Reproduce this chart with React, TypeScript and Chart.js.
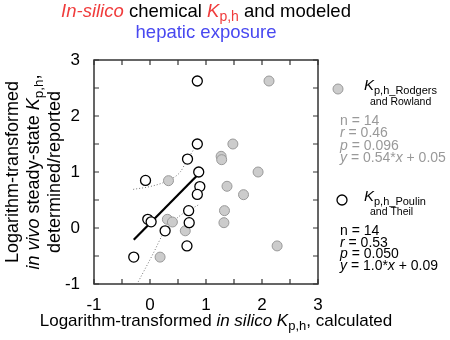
import React, { useEffect, useRef } from "react";
import { Chart, registerables } from "chart.js";

Chart.register(...registerables);

// Rodgers and Rowland (grey filled)
const rrX = [2.125, 1.48, 1.27, 1.28, 1.93, 0.33, 1.375, 1.67, 1.33, 0.31, 0.4, 1.32, 0.63, 2.27, 0.18];
const rrY = [2.625, 1.5, 1.28, 1.22, 1.0, 0.845, 0.745, 0.595, 0.31, 0.155, 0.107, 0.095, -0.05, -0.32, -0.52];
// Poulin and Theil (open)
const ptX = [0.845, 0.845, 0.67, 0.87, -0.08, 0.89, 0.845, 0.69, -0.04, 0.02, 0.7, 0.27, 0.66, -0.29];
const ptY = [2.625, 1.5, 1.23, 1.0, 0.85, 0.74, 0.6, 0.31, 0.155, 0.11, 0.095, -0.05, -0.32, -0.52];
// regression line (Poulin and Theil)
const fitX = [-0.29, 0.85];
const fitY = [-0.21, 0.945];
// confidence band
const ciUpperX = [-0.3, 0, 0.24, 0.33, 0.54, 0.655, 0.83];
const ciUpperY = [0.69, 0.74, 0.81, 0.85, 1.0, 1.2, 1.48];
const ciLowerX = [-0.21, 0.06, 0.24, 0.51, 0.86];
const ciLowerY = [-0.96, -0.45, -0.095, 0.2, 0.41];

const axisMin = -1;
const axisMax = 3;
const tickLabels = ["-1", "0", "1", "2", "3"];

const rrStats = ["n = 14", "r = 0.46", "p = 0.096", "y = 0.54*x + 0.05"];
const ptStats = ["n = 14", "r = 0.53", "p = 0.050", "y = 1.0*x + 0.09"];

const FONT = "'Liberation Sans', Arial, sans-serif";
const RED = "#f03c3c";
const BLUE = "#4848f0";

type Run = { t: string; size?: number; italic?: boolean; color?: string; dy?: number };

function runsWidth(ctx: CanvasRenderingContext2D, runs: Run[], base: number) {
  let w = 0;
  for (const r of runs) {
    ctx.font = `${r.italic ? "italic " : ""}${r.size || base}px ${FONT}`;
    w += ctx.measureText(r.t).width;
  }
  return w;
}

function drawRuns(ctx: CanvasRenderingContext2D, x: number, y: number, runs: Run[], base: number, color: string, align: "left" | "center") {
  const w = runsWidth(ctx, runs, base);
  let cx = align === "center" ? x - w / 2 : x;
  ctx.textAlign = "left";
  ctx.textBaseline = "alphabetic";
  for (const r of runs) {
    ctx.font = `${r.italic ? "italic " : ""}${r.size || base}px ${FONT}`;
    ctx.fillStyle = r.color || color;
    ctx.fillText(r.t, cx, y + (r.dy || 0));
    cx += ctx.measureText(r.t).width;
  }
}

function statRuns(s: string): Run[] {
  const out: Run[] = [];
  for (const ch of s) {
    const it = ch === "r" || ch === "p" || ch === "y" || ch === "x";
    const last = out[out.length - 1];
    if (last && !!last.italic === it) last.t += ch;
    else out.push({ t: ch, italic: it });
  }
  return out;
}

const decor = {
  id: "decor",
  afterDraw(chart: any) {
    const ctx: CanvasRenderingContext2D = chart.ctx;
    const { left, right, top, bottom } = chart.chartArea;
    const xs = chart.scales.x;
    const ys = chart.scales.y;
    ctx.save();
    // frame
    ctx.strokeStyle = "#333";
    ctx.lineWidth = 1.5;
    ctx.strokeRect(left, top, right - left, bottom - top);
    // inner ticks
    ctx.lineWidth = 1.2;
    const tl = 5;
    ctx.beginPath();
    for (let v = axisMin; v <= axisMax + 1e-9; v += 0.5) {
      const px = xs.getPixelForValue(v);
      const py = ys.getPixelForValue(v);
      ctx.moveTo(px, bottom); ctx.lineTo(px, bottom - tl);
      ctx.moveTo(px, top); ctx.lineTo(px, top + tl);
      ctx.moveTo(left, py); ctx.lineTo(left + tl, py);
      ctx.moveTo(right, py); ctx.lineTo(right - tl, py);
    }
    ctx.stroke();

    // title
    const cx = (left + right) / 2;
    drawRuns(ctx, cx, 17, [
      { t: "In-silico", italic: true, color: RED },
      { t: " chemical " },
      { t: "K", italic: true, color: RED },
      { t: "p,h", size: 14, dy: 4, color: RED },
      { t: " and modeled" },
    ], 18.5, "#000", "center");
    drawRuns(ctx, cx, 38, [{ t: "hepatic exposure" }], 18.5, BLUE, "center");

    // x title
    drawRuns(ctx, 216, 326, [
      { t: "Logarithm-transformed " },
      { t: "in silico", italic: true },
      { t: " " },
      { t: "K", italic: true },
      { t: "p,h", size: 13, dy: 4 },
      { t: ", calculated" },
    ], 17, "#000", "center");

    // y title
    const cy = (top + bottom) / 2;
    const yLines: [number, Run[]][] = [
      [18, [{ t: "Logarithm-transformed" }]],
      [39, [{ t: "in vivo", italic: true }, { t: " steady-state " }, { t: "K", italic: true }, { t: "p,h", size: 13.5, dy: 4 }, { t: "," }]],
      [60, [{ t: "determined/reported" }]],
    ];
    for (const [bx, runs] of yLines) {
      ctx.save();
      ctx.translate(bx, cy);
      ctx.rotate(-Math.PI / 2);
      drawRuns(ctx, 0, 0, runs, 18, "#000", "center");
      ctx.restore();
    }

    // legend: Rodgers and Rowland
    ctx.beginPath();
    ctx.arc(338, 89, 5, 0, Math.PI * 2);
    ctx.fillStyle = "#cccccc";
    ctx.fill();
    ctx.strokeStyle = "#999";
    ctx.lineWidth = 1;
    ctx.stroke();
    drawRuns(ctx, 364, 90, [{ t: "K", italic: true, size: 15 }, { t: "p,h_Rodgers", size: 11, dy: 4 }], 11, "#000", "left");
    drawRuns(ctx, 370, 105, [{ t: "and Rowland" }], 10.5, "#000", "left");
    rrStats.forEach((s, i) => drawRuns(ctx, 340, 125 + i * 12.3, statRuns(s), 14, "#999", "left"));

    // legend: Poulin and Theil
    ctx.beginPath();
    ctx.arc(342, 200, 5, 0, Math.PI * 2);
    ctx.fillStyle = "#fff";
    ctx.fill();
    ctx.strokeStyle = "#000";
    ctx.lineWidth = 1.3;
    ctx.stroke();
    drawRuns(ctx, 364, 201, [{ t: "K", italic: true, size: 15 }, { t: "p,h_Poulin", size: 11, dy: 4 }], 11, "#000", "left");
    drawRuns(ctx, 370, 215, [{ t: "and Theil" }], 10.5, "#000", "left");
    ptStats.forEach((s, i) => drawRuns(ctx, 340, 235 + i * 11.7, statRuns(s), 14, "#000", "left"));

    ctx.restore();
  },
};

function pts(xs: number[], ys: number[]) {
  return xs.map((x, i) => ({ x, y: ys[i] }));
}

export default function App() {
  const ref = useRef<HTMLCanvasElement | null>(null);
  useEffect(() => {
    document.body.style.margin = "0";
    const chart = new Chart(ref.current as HTMLCanvasElement, {
      type: "scatter",
      data: {
        datasets: [
          {
            data: pts(ciUpperX, ciUpperY), showLine: true, pointRadius: 0, borderColor: "#777",
            borderWidth: 1, borderDash: [1, 2], cubicInterpolationMode: "monotone", order: 5,
          } as any,
          {
            data: pts(ciLowerX, ciLowerY), showLine: true, pointRadius: 0, borderColor: "#777",
            borderWidth: 1, borderDash: [1, 2], cubicInterpolationMode: "monotone", order: 4,
          } as any,
          {
            data: pts(fitX, fitY), showLine: true, pointRadius: 0, borderColor: "#000", borderWidth: 2.2, order: 3,
          } as any,
          {
            data: pts(rrX, rrY), pointRadius: 5, pointBackgroundColor: "#cccccc", pointBorderColor: "#999",
            pointBorderWidth: 1, order: 2,
          } as any,
          {
            data: pts(ptX, ptY), pointRadius: 5, pointBackgroundColor: "#fff", pointBorderColor: "#000",
            pointBorderWidth: 1.3, order: 1,
          } as any,
        ],
      },
      options: {
        animation: false,
        responsive: false,
        devicePixelRatio: 1,
        layout: { padding: { top: 60, right: 132, left: 0, bottom: 0 } },
        plugins: { legend: { display: false }, tooltip: { enabled: false }, title: { display: false } },
        scales: {
          x: {
            type: "linear", min: axisMin, max: axisMax,
            grid: { display: false }, border: { display: false },
            ticks: {
              stepSize: 1, padding: 3, color: "#000", font: { family: FONT, size: 17 },
              callback: (v: any) => tickLabels[Math.round(v - axisMin)] ?? "",
              maxRotation: 0,
            },
            afterFit: (s: any) => { s.height = 56; },
          },
          y: {
            type: "linear", min: axisMin, max: axisMax,
            grid: { display: false }, border: { display: false },
            ticks: {
              stepSize: 1, padding: 6, color: "#000", font: { family: FONT, size: 17 },
              callback: (v: any) => tickLabels[Math.round(v - axisMin)] ?? "",
            },
            afterFit: (s: any) => { s.width = 94; },
          },
        },
      } as any,
      plugins: [decor],
    });
    return () => chart.destroy();
  }, []);
  return (
    <div style={{ position: "absolute", left: 0, top: 0, width: 450, height: 340 }}>
      <canvas ref={ref} width={450} height={340} style={{ display: "block", width: 450, height: 340 }} />
    </div>
  );
}
